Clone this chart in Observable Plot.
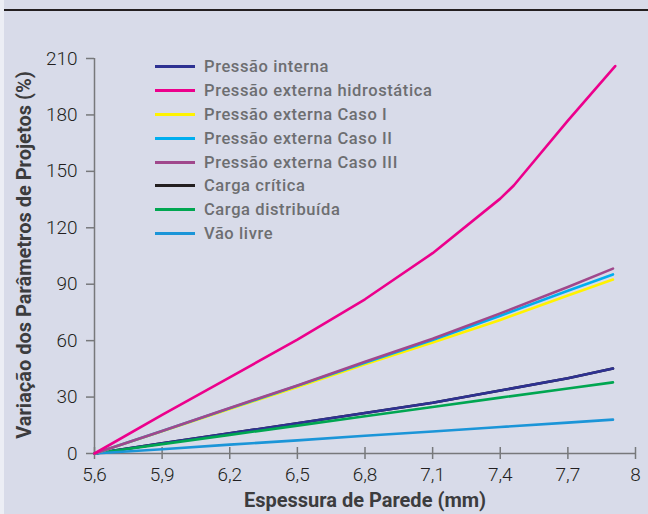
<!DOCTYPE html>
<html><head><meta charset="utf-8">
<script src="https://cdn.jsdelivr.net/npm/d3@7"></script>
<script src="https://cdn.jsdelivr.net/npm/@observablehq/plot@0.6"></script>
<style>
html,body{margin:0;padding:0;background:#d8dbe9;}
#wrap{position:relative;width:648px;height:514px;background:#d8dbe9;overflow:hidden;font-family:Roboto,sans-serif;}
#strip{position:absolute;left:0;top:0;width:4px;height:514px;background:#eceef5;}
#topline{position:absolute;left:4px;top:9px;width:644px;height:2px;background:#231f20;}
#chart{position:absolute;left:0;top:0;}
#ytitle{position:absolute;left:24px;top:255px;transform:translate(-50%,-50%) rotate(-90deg);white-space:nowrap;font-weight:700;font-size:20px;color:#3c3c3e;}
#xtitle{position:absolute;left:365px;top:500px;transform:translate(-50%,-50%);white-space:nowrap;font-weight:700;font-size:20px;color:#3c3c3e;}
#legend{position:absolute;left:155px;top:55px;}
.row{display:flex;align-items:center;height:23.8px;}
.sw{width:40px;height:3px;margin-right:9px;}
.lab{font-size:16.5px;font-weight:500;color:#6d6e71;letter-spacing:0.6px;white-space:nowrap;}
</style></head>
<body>
<div id="wrap">
  <div id="strip"></div>
  <div id="topline"></div>
  <div id="chart"></div>
  <div id="legend"></div>
  <div id="ytitle">Variação dos Parâmetros de Projetos (%)</div>
  <div id="xtitle">Espessura de Parede (mm)</div>
</div>
<script>
// Espessura de parede (mm)
const xComum = [5.6, 5.9, 6.2, 6.5, 6.8, 7.1, 7.4, 7.7, 7.9];
const xHidro = [5.6, 5.9, 6.2, 6.5, 6.8, 7.1, 7.4, 7.46, 7.7, 7.91];
const xTicks = [5.6, 5.9, 6.2, 6.5, 6.8, 7.1, 7.4, 7.7, 8];
const yTicks = [0, 30, 60, 90, 120, 150, 180, 210];

// Variação (%)
const pressaoInterna   = [0, 5.4, 10.7, 16.1, 21.5, 27.0, 33.5, 40.0, 45.2];
const pressaoHidro     = [0, 20.5, 40.5, 60.5, 82.0, 106.5, 135.5, 142.5, 177.0, 206.0];
const pressaoCasoI     = [0, 11.8, 23.6, 35.4, 47.5, 59.0, 71.0, 84.0, 92.5];
const pressaoCasoII    = [0, 12.0, 24.0, 36.0, 48.3, 60.3, 73.2, 86.5, 95.2];
const pressaoCasoIII   = [0, 12.0, 24.2, 36.2, 48.8, 61.0, 74.5, 88.5, 98.3];
const cargaCritica     = [0, 5.4, 10.7, 16.1, 21.5, 27.0, 33.5, 40.0, 45.2];
const cargaDistribuida = [0, 5.0, 9.9, 14.8, 19.8, 24.7, 29.7, 34.6, 37.8];
const vaoLivre         = [0, 2.3, 4.7, 7.0, 9.4, 11.7, 14.1, 16.4, 18.0];

const legendOrder = ["Pressão interna","Pressão externa hidrostática","Pressão externa Caso I","Pressão externa Caso II","Pressão externa Caso III","Carga crítica","Carga distribuída","Vão livre"];
const colors = {"Pressão interna":"#2e3192","Pressão externa hidrostática":"#ec008c","Pressão externa Caso I":"#fff200","Pressão externa Caso II":"#00aeef","Pressão externa Caso III":"#a0488c","Carga crítica":"#231f20","Carga distribuída":"#00a651","Vão livre":"#1b95d8"};

// draw order (bottom to top)
const series = [
  {name:"Carga crítica", x:xComum, y:cargaCritica},
  {name:"Pressão interna", x:xComum, y:pressaoInterna},
  {name:"Carga distribuída", x:xComum, y:cargaDistribuida},
  {name:"Vão livre", x:xComum, y:vaoLivre},
  {name:"Pressão externa Caso I", x:xComum, y:pressaoCasoI},
  {name:"Pressão externa Caso II", x:xComum, y:pressaoCasoII},
  {name:"Pressão externa Caso III", x:xComum, y:pressaoCasoIII},
  {name:"Pressão externa hidrostática", x:xHidro, y:pressaoHidro}
];

const axisColor = "#77787b";
const fmt = d => String(d).replace(".", ",");

const plot = Plot.plot({
  width: 648, height: 514,
  marginLeft: 94, marginRight: 13, marginTop: 58, marginBottom: 61,
  style: {background: "transparent", fontFamily: "Roboto, sans-serif", fontSize: "19px", fontWeight: 300, color: "#231f20"},
  x: {domain: [5.6, 8], axis: null},
  y: {domain: [0, 210], axis: null},
  marks: [
    Plot.ruleX([5.6], {stroke: axisColor, strokeWidth: 1.5}),
    Plot.ruleY([0], {stroke: axisColor, strokeWidth: 1.5}),
    Plot.axisY({ticks: yTicks, tickSize: 8, tickPadding: 9, stroke: axisColor, strokeWidth: 1.5, fill: "#231f20", label: null, fontSize: 19}),
    Plot.tickX(xTicks, {x: d => d, stroke: axisColor, strokeWidth: 1.5, insetTop: 389, insetBottom: -6}),
    Plot.axisX({ticks: xTicks, tickSize: 0, tickPadding: 14, tickFormat: fmt, fill: "#231f20", label: null, fontSize: 19}),
    ...series.map(s => Plot.line(s.y.map((v, i) => ({x: s.x[i], y: v})), {x: "x", y: "y", stroke: colors[s.name], strokeWidth: 2.6, curve: "linear"}))
  ]
});
document.getElementById("chart").appendChild(plot);

const leg = document.getElementById("legend");
legendOrder.forEach(n => {
  const r = document.createElement("div"); r.className = "row";
  const sw = document.createElement("div"); sw.className = "sw"; sw.style.background = colors[n];
  const t = document.createElement("span"); t.className = "lab"; t.textContent = n;
  r.appendChild(sw); r.appendChild(t); leg.appendChild(r);
});
</script>
</body></html>
